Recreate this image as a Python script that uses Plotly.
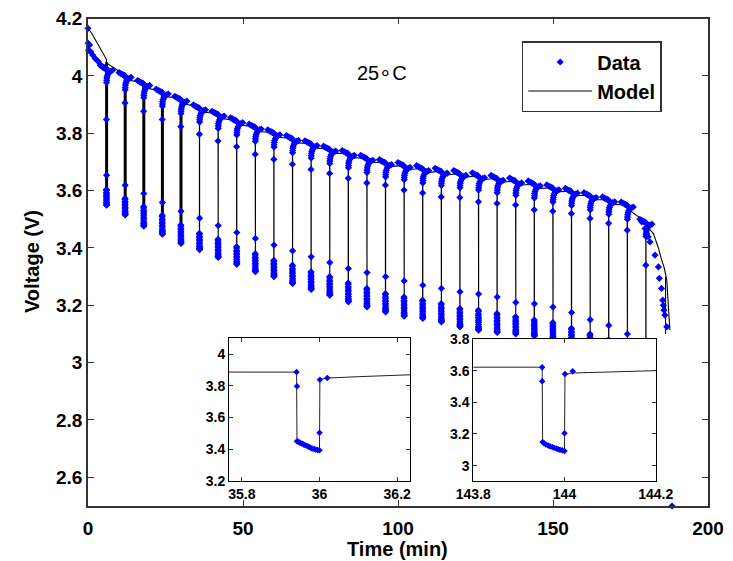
import plotly.graph_objects as go

# ---------------- main chart values ----------------
pulse_t = [6, 12, 18, 24, 30, 36, 42, 48, 54, 60, 66, 72, 78, 84, 90,
           96, 102, 108, 114, 120, 126, 132, 138, 144, 150, 156, 162, 168, 174, 180]
model_rest = [4.058, 4.003, 3.975, 3.945, 3.920, 3.890, 3.868, 3.845, 3.822, 3.802,
              3.782, 3.764, 3.745, 3.730, 3.713, 3.698, 3.688, 3.677, 3.668, 3.660,
              3.652, 3.643, 3.634, 3.622, 3.610, 3.598, 3.583, 3.568, 3.550, 3.490]
data_top = [4.025, 4.000, 3.972, 3.942, 3.917, 3.887, 3.865, 3.842, 3.820, 3.800,
            3.780, 3.762, 3.743, 3.728, 3.711, 3.696, 3.686, 3.675, 3.666, 3.658,
            3.650, 3.641, 3.632, 3.622, 3.608, 3.596, 3.581, 3.566, 3.548, 3.488]
drop_v = [3.848, 3.906, 3.877, 3.848, 3.823, 3.797, 3.773, 3.753, 3.727, 3.709,
          3.692, 3.674, 3.660, 3.643, 3.627, 3.619, 3.602, 3.592, 3.578, 3.576,
          3.561, 3.555, 3.550, 3.533, 3.528, 3.520, 3.503, 3.486, 3.462, 3.340]
mid_v = [3.654, 3.619, 3.590, 3.559, 3.528, 3.504, 3.478, 3.454, 3.433, 3.410,
         3.390, 3.369, 3.349, 3.328, 3.314, 3.300, 3.285, 3.270, 3.259, 3.247,
         3.239, 3.229, 3.210, 3.205, 3.194, 3.175, 3.150, 3.130, 3.100, 3.060]
low_top = [3.604, 3.573, 3.544, 3.514, 3.480, 3.451, 3.430, 3.404, 3.380, 3.357,
           3.340, 3.317, 3.300, 3.278, 3.259, 3.241, 3.229, 3.218, 3.206, 3.189,
           3.183, 3.171, 3.160, 3.149, 3.140, 3.120, 3.100, 3.080, 3.050, 3.000]
low_bot = [3.549, 3.515, 3.476, 3.448, 3.416, 3.394, 3.367, 3.343, 3.317, 3.300,
           3.276, 3.255, 3.235, 3.212, 3.194, 3.177, 3.162, 3.154, 3.142, 3.125,
           3.113, 3.105, 3.100, 3.093, 3.080, 3.060, 3.040, 3.020, 2.990, 2.940]
thick_pulses = 5  # first pulses drawn with a heavier model line

start_data_t = [0.0, 0.05, 0.2, 0.5, 0.9, 1.5, 2.3, 3.3, 4.1, 4.95, 5.5]
start_data_v = [4.166, 4.114, 4.090, 4.108, 4.084, 4.073, 4.061, 4.050, 4.038, 4.029, 4.025]
end_data_t = [178.6, 179.7, 180.2, 180.7, 181.3, 182.9, 184.0, 184.3, 185.0, 185.4,
              185.6, 185.8, 186.1, 186.7, 188.4]
end_data_v = [3.491, 3.468, 3.450, 3.439, 3.421, 3.375, 3.334, 3.294, 3.259, 3.218,
              3.200, 3.183, 3.166, 3.125, 2.500]

model_start_t = [0.0, 1.2]
model_start_v = [4.166, 4.149]
model_end_t = [182.4, 184.0, 185.0, 185.9, 186.7, 187.2, 187.7]
model_end_v = [3.450, 3.400, 3.360, 3.330, 3.288, 3.206, 3.113]
model_cut_t = [186.3, 186.3]
model_cut_v = [3.300, 3.100]

# per-pulse shape of samples around the top of each pulse (offsets from pulse time / rest level)
pre_dt = [-2.0, -1.4, -0.9, -0.5, -0.2, -0.06]
pre_dv = [0.012, 0.008, 0.005, 0.003, 0.001, 0.0]
post_dt = [0.001, 0.03, 0.08, 0.2, 0.45, 0.8, 1.3, 1.9]
post_dv = [-0.048, -0.040, -0.032, -0.025, -0.018, -0.012, -0.008, -0.005]
rec_dt = [0.001, 0.02, 0.3]
rec_dv = [-0.050, -0.040, -0.015]
pulse_len = 0.06

# ---------------- inset values ----------------
in1_model_t = [35.767, 35.941, 35.942, 35.95, 35.96, 35.97, 35.98, 35.99, 36.0, 36.001, 36.018, 36.1, 36.233]
in1_model_v = [3.887, 3.887, 3.451, 3.440, 3.427, 3.416, 3.407, 3.400, 3.394, 3.839, 3.849, 3.858, 3.870]
in1_data_t = [35.941, 35.942, 35.942, 35.946, 35.950, 35.955, 35.959, 35.963, 35.968, 35.972,
              35.977, 35.981, 35.986, 35.990, 35.995, 36.000, 36.000, 36.001, 36.020]
in1_data_v = [3.887, 3.797, 3.451, 3.447, 3.440, 3.436, 3.430, 3.426, 3.420, 3.416,
              3.410, 3.405, 3.402, 3.398, 3.396, 3.394, 3.504, 3.839, 3.849]
in2_model_t = [143.8, 143.951, 143.952, 143.96, 143.97, 143.98, 143.99, 144.0, 144.001, 144.016, 144.1, 144.2]
in2_model_v = [3.622, 3.622, 3.149, 3.132, 3.118, 3.108, 3.100, 3.093, 3.575, 3.585, 3.592, 3.600]
in2_data_t = [143.951, 143.951, 143.952, 143.955, 143.959, 143.964, 143.968, 143.973, 143.977,
              143.982, 143.986, 143.990, 143.995, 144.000, 144.000, 144.001, 144.018]
in2_data_v = [3.622, 3.533, 3.149, 3.141, 3.133, 3.127, 3.122, 3.118, 3.113,
              3.108, 3.104, 3.100, 3.097, 3.093, 3.205, 3.579, 3.596]

x_ticks = [0, 50, 100, 150, 200]
y_ticks = [2.6, 2.8, 3.0, 3.2, 3.4, 3.6, 3.8, 4.0, 4.2]
y_ticktext = ['2.6', '2.8', '3', '3.2', '3.4', '3.6', '3.8', '4', '4.2']
in1_xticks = [35.8, 36.0, 36.2]
in1_xtext = ['35.8', '36', '36.2']
in1_yticks = [3.2, 3.4, 3.6, 3.8, 4.0]
in1_ytext = ['3.2', '3.4', '3.6', '3.8', '4']
in2_xticks = [143.8, 144.0, 144.2]
in2_xtext = ['143.8', '144', '144.2']
in2_yticks = [3.0, 3.2, 3.4, 3.6, 3.8]
in2_ytext = ['3', '3.2', '3.4', '3.6', '3.8']

# cluster shape taken from the 36-min inset pulse
c_t = in1_data_t[2:16]
c_v = in1_data_v[2:16]
c_ft = [(t - c_t[0]) / (c_t[-1] - c_t[0]) for t in c_t]
c_fv = [(v - c_v[-1]) / (c_v[0] - c_v[-1]) for v in c_v]

# ---------------- build model line ----------------
mt, mv = list(model_start_t), list(model_start_v)
for k, t in enumerate(pulse_t):
    r = model_rest[k]
    mt += [t - pulse_len, t - pulse_len + 0.002, t]
    mv += [r, low_top[k], low_bot[k]]
    mt += [t + d for d in rec_dt]
    mv += [r + d for d in rec_dv]
mt += model_end_t + [None] + model_cut_t
mv += model_end_v + [None] + model_cut_v

tk_t, tk_v = [], []
for k in range(thick_pulses):
    tk_t += [pulse_t[k], pulse_t[k], None]
    tk_v += [model_rest[k] - 0.01, low_bot[k], None]

# ---------------- build data points ----------------
dt_, dv_ = list(start_data_t), list(start_data_v)
for k, t in enumerate(pulse_t):
    top = data_top[k]
    dt_ += [t + d for d in pre_dt]
    dv_ += [top + d for d in pre_dv]
    dt_.append(t - pulse_len)
    dv_.append(drop_v[k])
    dt_ += [t - pulse_len + f * pulse_len for f in c_ft]
    dv_ += [low_bot[k] + f * (low_top[k] - low_bot[k]) for f in c_fv]
    dt_.append(t)
    dv_.append(mid_v[k])
    dt_ += [t + d for d in post_dt]
    dv_ += [top + d for d in post_dv]
dt_ += end_data_t
dv_ += end_data_v

BLUE = '#0000FF'
FONT = 'Arial, Liberation Sans, sans-serif'

fig = go.Figure()
fig.add_trace(go.Scatter(x=mt, y=mv, mode='lines', name='Model', legendrank=2,
                         line=dict(color='black', width=1.1), connectgaps=False))
fig.add_trace(go.Scatter(x=tk_t, y=tk_v, mode='lines', showlegend=False,
                         line=dict(color='black', width=3), connectgaps=False))
fig.add_trace(go.Scatter(x=dt_, y=dv_, mode='markers', name='Data', legendrank=1,
                         marker=dict(symbol='diamond', size=5.5, color=BLUE), cliponaxis=False))
fig.add_trace(go.Scatter(x=in1_model_t, y=in1_model_v, mode='lines', showlegend=False,
                         line=dict(color='#222', width=1), xaxis='x2', yaxis='y2'))
fig.add_trace(go.Scatter(x=in1_data_t, y=in1_data_v, mode='markers', showlegend=False,
                         marker=dict(symbol='diamond', size=5, color=BLUE), xaxis='x2', yaxis='y2'))
fig.add_trace(go.Scatter(x=in2_model_t, y=in2_model_v, mode='lines', showlegend=False,
                         line=dict(color='#222', width=1), xaxis='x3', yaxis='y3'))
fig.add_trace(go.Scatter(x=in2_data_t, y=in2_data_v, mode='markers', showlegend=False,
                         marker=dict(symbol='diamond', size=5, color=BLUE), xaxis='x3', yaxis='y3'))

# page body adds an 8px offset; positions below are given in screen pixels
OFF = 8
W, H = 733 - OFF, 561 - OFF


def px(x):
    return (x - OFF) / W


def py(y):
    return 1 - (y - OFF) / H


main_ax = dict(ticks='inside', mirror='ticks', showline=True, linecolor='#333', linewidth=1.5,
               showgrid=False, zeroline=False, automargin=False, ticklen=6, tickcolor='#333',
               tickfont=dict(family=FONT, size=19, weight='bold', color='black'))
in_ax = dict(ticks='inside', mirror='ticks', showline=True, linecolor='black', linewidth=1,
             showgrid=False, zeroline=False, automargin=False, ticklen=4, tickcolor='#333',
             tickfont=dict(family=FONT, size=14, weight='bold', color='black'))

fig.update_layout(
    width=W, height=H, margin=dict(l=0, r=0, t=0, b=0), template='none',
    paper_bgcolor='white', plot_bgcolor='white',
    font=dict(family=FONT, color='black'),
    xaxis=dict(main_ax, domain=[px(88), px(708)], range=[0, 200], tickvals=x_ticks, anchor='y',
               ticklabelstandoff=4),
    yaxis=dict(main_ax, domain=[py(506), py(18.6)], range=[2.5, 4.2],
               tickvals=y_ticks, ticktext=y_ticktext, anchor='x'),
    xaxis2=dict(in_ax, domain=[px(229), px(410)], range=[35.767, 36.233],
                tickvals=in1_xticks, ticktext=in1_xtext, anchor='y2'),
    yaxis2=dict(in_ax, domain=[py(481), py(338)], range=[3.2, 4.102],
                tickvals=in1_yticks, ticktext=in1_ytext, anchor='x2'),
    xaxis3=dict(in_ax, domain=[px(473.3), px(655.7)], range=[143.8, 144.2],
                tickvals=in2_xticks, ticktext=in2_xtext, anchor='y3'),
    yaxis3=dict(in_ax, domain=[py(481), py(339)], range=[2.903, 3.8],
                tickvals=in2_yticks, ticktext=in2_ytext, anchor='x3'),
    showlegend=True,
    legend=dict(x=px(521.7), y=py(41), xanchor='left', yanchor='top',
                bgcolor='white', bordercolor='#333', borderwidth=1.5, itemwidth=64,
                font=dict(family=FONT, size=20, weight='bold', color='black')),
    annotations=[
        dict(text='25∘C', x=px(381.7), y=py(73), xref='paper', yref='paper',
             xanchor='center', yanchor='middle',
             showarrow=False, font=dict(family=FONT, size=20, color='black')),
        dict(text='Time (min)', x=px(397), y=py(549), xref='paper', yref='paper',
             xanchor='center', yanchor='middle',
             showarrow=False, font=dict(family=FONT, size=20, weight='bold', color='black')),
        dict(text='Voltage (V)', x=px(32), y=py(262), xref='paper', yref='paper',
             xanchor='center', yanchor='middle', textangle=-90, showarrow=False,
             font=dict(family=FONT, size=20, weight='bold', color='black')),
    ],
)

fig.write_html('out.html')
